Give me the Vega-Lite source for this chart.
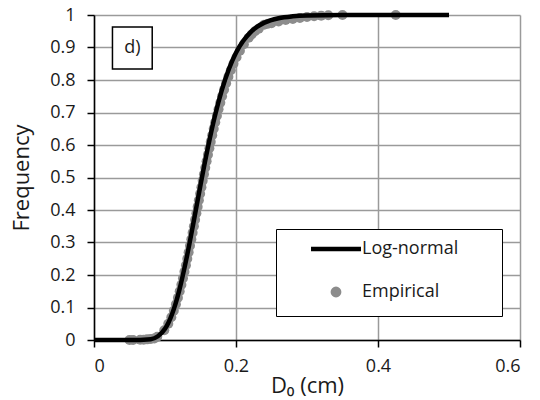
{
  "$schema": "https://vega.github.io/schema/vega-lite/v6.json",
  "width": 426,
  "height": 325,
  "autosize": {"type": "none"},
  "padding": {"left": 94, "top": 15, "right": 20, "bottom": 60},
  "background": "white",
  "config": {
    "view": {"stroke": null},
    "font": "Open Sans",
    "axis": {
      "gridColor": "#9a9a9a",
      "gridWidth": 1.5,
      "domainColor": "black",
      "domainWidth": 1.5,
      "tickColor": "black",
      "tickWidth": 1.5,
      "tickSize": 7,
      "labelFontSize": 18,
      "labelColor": "#1a1a1a",
      "titleFontSize": 22,
      "titleFontWeight": "normal",
      "titleColor": "#1a1a1a",
      "format": "~g",
      "labelOverlap": false
    },
    "axisX": {"labelPadding": 10, "titlePadding": 0},
    "axisY": {"labelPadding": 12, "titlePadding": 16}
  },
  "datasets": {
    "lognormal": [
      {"d": 0, "f": 0},
      {"d": 0.05, "f": 0},
      {"d": 0.08, "f": 0.0026},
      {"d": 0.09, "f": 0.0114},
      {"d": 0.10, "f": 0.0344},
      {"d": 0.105, "f": 0.0539},
      {"d": 0.11, "f": 0.0799},
      {"d": 0.115, "f": 0.1127},
      {"d": 0.12, "f": 0.152},
      {"d": 0.13, "f": 0.248},
      {"d": 0.14, "f": 0.360},
      {"d": 0.15, "f": 0.477},
      {"d": 0.16, "f": 0.588},
      {"d": 0.17, "f": 0.687},
      {"d": 0.18, "f": 0.769},
      {"d": 0.19, "f": 0.834},
      {"d": 0.20, "f": 0.884},
      {"d": 0.21, "f": 0.920},
      {"d": 0.22, "f": 0.946},
      {"d": 0.23, "f": 0.964},
      {"d": 0.24, "f": 0.9765},
      {"d": 0.26, "f": 0.9902},
      {"d": 0.28, "f": 0.996},
      {"d": 0.30, "f": 0.9984},
      {"d": 0.35, "f": 0.9999},
      {"d": 0.40, "f": 1},
      {"d": 0.50, "f": 1}
    ],
    "empirical": [
      {"d": 0.050, "f": 0, "series": "Empirical"},
      {"d": 0.055, "f": 0, "series": "Empirical"},
      {"d": 0.065, "f": 0.001, "series": "Empirical"},
      {"d": 0.070, "f": 0.001, "series": "Empirical"},
      {"d": 0.075, "f": 0.002, "series": "Empirical"},
      {"d": 0.080, "f": 0.003, "series": "Empirical"},
      {"d": 0.085, "f": 0.005, "series": "Empirical"},
      {"d": 0.0891, "f": 0.01, "series": "Empirical"},
      {"d": 0.0990, "f": 0.03, "series": "Empirical"},
      {"d": 0.1046, "f": 0.05, "series": "Empirical"},
      {"d": 0.1089, "f": 0.07, "series": "Empirical"},
      {"d": 0.1124, "f": 0.09, "series": "Empirical"},
      {"d": 0.1154, "f": 0.11, "series": "Empirical"},
      {"d": 0.1182, "f": 0.13, "series": "Empirical"},
      {"d": 0.1207, "f": 0.15, "series": "Empirical"},
      {"d": 0.1231, "f": 0.17, "series": "Empirical"},
      {"d": 0.1253, "f": 0.19, "series": "Empirical"},
      {"d": 0.1274, "f": 0.21, "series": "Empirical"},
      {"d": 0.1295, "f": 0.23, "series": "Empirical"},
      {"d": 0.1314, "f": 0.25, "series": "Empirical"},
      {"d": 0.1333, "f": 0.27, "series": "Empirical"},
      {"d": 0.1352, "f": 0.29, "series": "Empirical"},
      {"d": 0.1371, "f": 0.31, "series": "Empirical"},
      {"d": 0.1389, "f": 0.33, "series": "Empirical"},
      {"d": 0.1407, "f": 0.35, "series": "Empirical"},
      {"d": 0.1424, "f": 0.37, "series": "Empirical"},
      {"d": 0.1442, "f": 0.39, "series": "Empirical"},
      {"d": 0.1460, "f": 0.41, "series": "Empirical"},
      {"d": 0.1477, "f": 0.43, "series": "Empirical"},
      {"d": 0.1495, "f": 0.45, "series": "Empirical"},
      {"d": 0.1513, "f": 0.47, "series": "Empirical"},
      {"d": 0.1531, "f": 0.49, "series": "Empirical"},
      {"d": 0.1549, "f": 0.51, "series": "Empirical"},
      {"d": 0.1567, "f": 0.53, "series": "Empirical"},
      {"d": 0.1586, "f": 0.55, "series": "Empirical"},
      {"d": 0.1605, "f": 0.57, "series": "Empirical"},
      {"d": 0.1625, "f": 0.59, "series": "Empirical"},
      {"d": 0.1644, "f": 0.61, "series": "Empirical"},
      {"d": 0.1665, "f": 0.63, "series": "Empirical"},
      {"d": 0.1686, "f": 0.65, "series": "Empirical"},
      {"d": 0.1708, "f": 0.67, "series": "Empirical"},
      {"d": 0.1731, "f": 0.69, "series": "Empirical"},
      {"d": 0.1754, "f": 0.71, "series": "Empirical"},
      {"d": 0.1779, "f": 0.73, "series": "Empirical"},
      {"d": 0.1804, "f": 0.75, "series": "Empirical"},
      {"d": 0.1832, "f": 0.77, "series": "Empirical"},
      {"d": 0.1861, "f": 0.79, "series": "Empirical"},
      {"d": 0.1893, "f": 0.81, "series": "Empirical"},
      {"d": 0.1927, "f": 0.83, "series": "Empirical"},
      {"d": 0.1965, "f": 0.85, "series": "Empirical"},
      {"d": 0.2007, "f": 0.87, "series": "Empirical"},
      {"d": 0.2055, "f": 0.89, "series": "Empirical"},
      {"d": 0.2111, "f": 0.91, "series": "Empirical"},
      {"d": 0.2179, "f": 0.93, "series": "Empirical"},
      {"d": 0.2220, "f": 0.94, "series": "Empirical"},
      {"d": 0.2267, "f": 0.95, "series": "Empirical"},
      {"d": 0.2320, "f": 0.958, "series": "Empirical"},
      {"d": 0.2396, "f": 0.97, "series": "Empirical"},
      {"d": 0.2450, "f": 0.973, "series": "Empirical"},
      {"d": 0.250, "f": 0.975, "series": "Empirical"},
      {"d": 0.260, "f": 0.980, "series": "Empirical"},
      {"d": 0.270, "f": 0.985, "series": "Empirical"},
      {"d": 0.280, "f": 0.988, "series": "Empirical"},
      {"d": 0.290, "f": 0.991, "series": "Empirical"},
      {"d": 0.300, "f": 0.994, "series": "Empirical"},
      {"d": 0.310, "f": 0.996, "series": "Empirical"},
      {"d": 0.320, "f": 0.998, "series": "Empirical"},
      {"d": 0.330, "f": 0.999, "series": "Empirical"},
      {"d": 0.350, "f": 1, "series": "Empirical"},
      {"d": 0.425, "f": 1, "series": "Empirical"}
    ],
    "panel": [
      {"label": "d)", "xc": 0.054, "yc": 0.898, "x1": 0.026, "x2": 0.082, "y1": 0.834, "y2": 0.963}
    ]
  },
  "layer": [
    {
      "data": {"name": "empirical"},
      "mark": {"type": "point", "filled": false, "fill": "#8c8c8c", "fillOpacity": 1, "strokeWidth": 0, "size": 100, "opacity": 1},
      "encoding": {
        "x": {
          "field": "d", "type": "quantitative",
          "scale": {"domain": [0, 0.6], "nice": false},
          "axis": {"title": "D₀ (cm)", "values": [0, 0.2, 0.4, 0.6]}
        },
        "y": {
          "field": "f", "type": "quantitative",
          "scale": {"domain": [0, 1], "nice": false},
          "axis": {"title": "Frequency", "values": [0, 0.1, 0.2, 0.3, 0.4, 0.5, 0.6, 0.7, 0.8, 0.9, 1]}
        },
        "color": {
          "field": "series", "type": "nominal",
          "scale": {"domain": ["Log-normal", "Empirical"], "range": ["black", "#8c8c8c"]},
          "legend": {
            "title": "I",
            "titleOrient": "right",
            "titleOpacity": 0,
            "titleFontSize": 8,
            "titlePadding": 30,
            "orient": "none",
            "legendX": 182,
            "legendY": 214,
            "fillColor": "white",
            "strokeColor": "black",
            "padding": 11,
            "rowPadding": 21,
            "symbolSize": 40,
            "symbolStrokeWidth": 4.5,
            "symbolOffset": 40,
            "labelOffset": 17,
            "labelFontSize": 18,
            "labelColor": "#1a1a1a"
          }
        },
        "shape": {
          "field": "series", "type": "nominal",
          "scale": {"domain": ["Log-normal", "Empirical"], "range": ["M-7.9,0L7.9,0", "circle"]}
        }
      }
    },
    {
      "data": {"name": "lognormal"},
      "mark": {"type": "line", "color": "black", "strokeWidth": 4.5, "interpolate": "monotone"},
      "encoding": {
        "x": {"field": "d", "type": "quantitative", "axis": {"title": "D₀ (cm)", "values": [0, 0.2, 0.4, 0.6]}},
        "y": {"field": "f", "type": "quantitative", "axis": {"title": "Frequency", "values": [0, 0.1, 0.2, 0.3, 0.4, 0.5, 0.6, 0.7, 0.8, 0.9, 1]}}
      }
    },
    {
      "data": {"name": "panel"},
      "mark": {"type": "rect", "fill": "white", "stroke": "black", "strokeWidth": 1.5},
      "encoding": {
        "x": {"field": "x1", "type": "quantitative", "axis": {"title": "D₀ (cm)", "values": [0, 0.2, 0.4, 0.6]}},
        "x2": {"field": "x2"},
        "y": {"field": "y1", "type": "quantitative", "axis": {"title": "Frequency", "values": [0, 0.1, 0.2, 0.3, 0.4, 0.5, 0.6, 0.7, 0.8, 0.9, 1]}},
        "y2": {"field": "y2"}
      }
    },
    {
      "data": {"name": "panel"},
      "mark": {"type": "text", "fontSize": 18, "color": "#1a1a1a", "align": "center", "baseline": "middle"},
      "encoding": {
        "x": {"field": "xc", "type": "quantitative", "axis": {"title": "D₀ (cm)", "values": [0, 0.2, 0.4, 0.6]}},
        "y": {"field": "yc", "type": "quantitative", "axis": {"title": "Frequency", "values": [0, 0.1, 0.2, 0.3, 0.4, 0.5, 0.6, 0.7, 0.8, 0.9, 1]}},
        "text": {"field": "label"}
      }
    }
  ]
}
